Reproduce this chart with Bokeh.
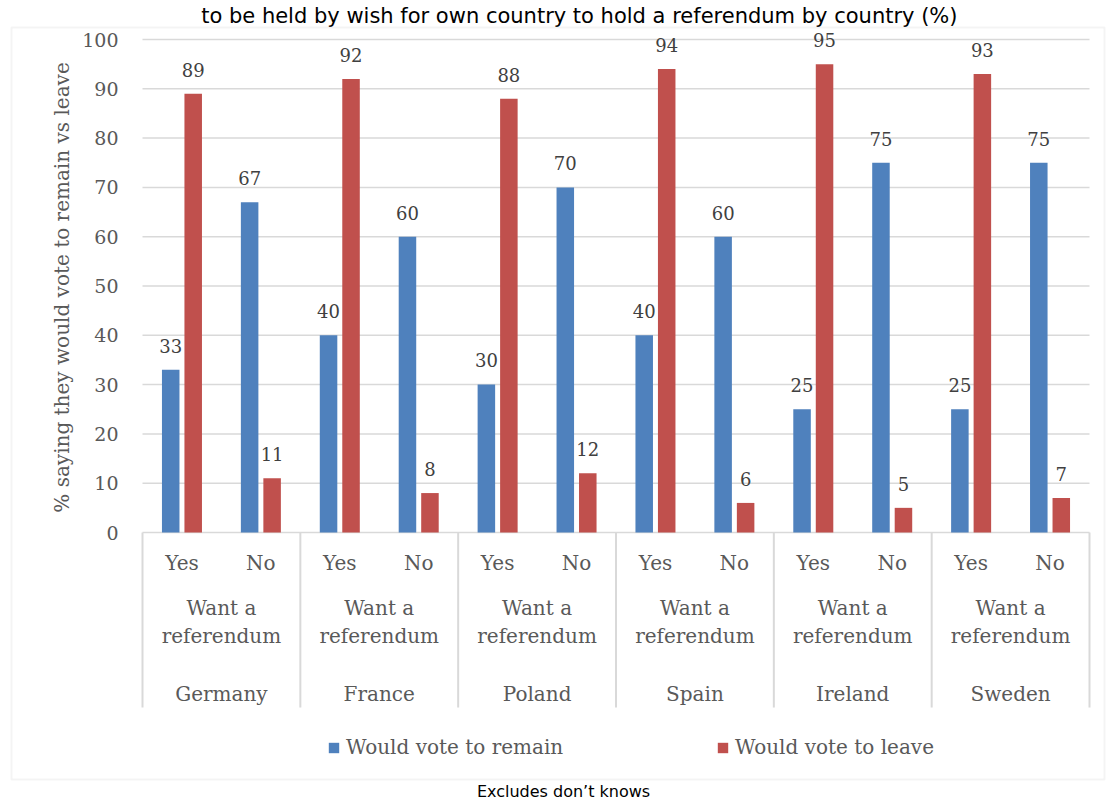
from bokeh.plotting import figure
from bokeh.models import (ColumnDataSource, Range1d, FixedTicker, LinearAxis,
                          Legend, LegendItem, BoxAnnotation, Label, Grid)
from bokeh.transform import dodge
from bokeh.core.properties import value
from bokeh.embed import file_html
from bokeh.resources import INLINE

# ---------------- data ----------------
countries = ["Germany", "France", "Poland", "Spain", "Ireland", "Sweden"]
answers = ["Yes", "No"]
group_line_1 = "Want a"
group_line_2 = "referendum"
remain = [33, 67, 40, 60, 30, 70, 40, 60, 25, 75, 25, 75]
leave = [89, 11, 92, 8, 88, 12, 94, 6, 95, 5, 93, 7]
y_ticks = [0, 10, 20, 30, 40, 50, 60, 70, 80, 90, 100]
series_names = ["Would vote to remain", "Would vote to leave"]
title_text = "to be held by wish for own country to hold a referendum by country (%)"
y_title = "% saying they would vote to remain vs leave"
note_text = "Excludes don\u2019t knows"

BLUE = "#4F81BD"
RED = "#C0504D"
GRID = "#D9D9D9"
TXT = "#595959"
LBL = "#404040"
SERIF = "DejaVu Serif"
SANS = "DejaVu Sans"

W, H = 1107, 801
# chart area in pixels: x 142..1089 ; y value 0 at 532, 100 at 39
PLOT_L, PLOT_R = 142, 1089
n_cat = len(countries) * len(answers)
unit = (PLOT_R - PLOT_L) / n_cat          # pixels per category slot
ppv = (532 - 39) / 100.0                  # pixels per percentage point
x_start = -PLOT_L / unit
x_end = (W - PLOT_L) / unit
y_end = 100 + 39 / ppv
y_start = y_end - H / ppv

# category slot centres (one slot per country/answer pair)
cat_x = [i + 0.5 for i in range(n_cat)]
LABEL_GAP = 4.9  # percentage points between a bar top and its label centre

src = ColumnDataSource(dict(
    cx=cat_x,
    ans=[a for c in countries for a in answers],
    remain=remain,
    leave=leave,
    remain_txt=[str(v) for v in remain],
    leave_txt=[str(v) for v in leave],
    remain_y=[v + LABEL_GAP for v in remain],
    leave_y=[v + LABEL_GAP for v in leave],
))

p = figure(width=W, height=H,
           x_range=Range1d(x_start, x_end), y_range=Range1d(y_start, y_end),
           output_backend="svg", toolbar_location=None,
           x_axis_location=None, y_axis_location=None, title=None,
           min_border=0, min_border_left=0, min_border_right=0,
           min_border_top=0, min_border_bottom=0,
           outline_line_color=None, background_fill_color="white",
           border_fill_color="white")

# drop any default grids
p.center = [r for r in p.center if not isinstance(r, Grid)]

# y axis at the left edge of the chart area
ticker = FixedTicker(ticks=y_ticks)
yaxis = LinearAxis(ticker=ticker, fixed_location=0)
yaxis.axis_line_color = None
yaxis.major_tick_line_color = None
yaxis.minor_tick_line_color = None
yaxis.major_tick_out = 0
yaxis.major_tick_in = 0
yaxis.major_label_standoff = 24
yaxis.major_label_text_font = SERIF
yaxis.major_label_text_font_size = "19px"
yaxis.major_label_text_color = TXT
p.add_layout(yaxis, "left")

# horizontal gridlines at the tick values, across the chart area
grid_src = ColumnDataSource(dict(y=y_ticks))
p.segment(x0=0, x1=n_cat, y0="y", y1="y", source=grid_src,
          line_color=GRID, line_width=1.5, level="underlay")

# y axis title, centred on the 0-100 scale
p.add_layout(Label(x=61, y=287, x_units="canvas", y_units="canvas",
                   text=y_title, angle=90, angle_units="deg",
                   text_align="center", text_baseline="middle",
                   text_font=SERIF, text_font_size="20px", text_color=TXT))

# bars
BW = 0.222
OFF = 0.1425
r_remain = p.vbar(x=dodge("cx", -OFF), top="remain", width=BW,
                  source=src, fill_color=BLUE, line_color=None)
r_leave = p.vbar(x=dodge("cx", OFF), top="leave", width=BW,
                 source=src, fill_color=RED, line_color=None)

# data labels
p.text(x=dodge("cx", -OFF), y="remain_y", text="remain_txt",
       source=src, text_align="center", text_baseline="middle",
       text_font=value(SERIF), text_font_size="18px", text_color=LBL)
p.text(x=dodge("cx", OFF), y="leave_y", text="leave_txt",
       source=src, text_align="center", text_baseline="middle",
       text_font=value(SERIF), text_font_size="18px", text_color=LBL)

# multi-level category labels
p.text(x="cx", y=-6.1, text="ans", source=src, text_align="center",
       text_baseline="middle", text_font=value(SERIF), text_font_size="20px",
       text_color=TXT)
n_ans = len(answers)
grp = ColumnDataSource(dict(
    gx=[j * n_ans + n_ans / 2 for j in range(len(countries))],
    c=countries,
    l1=[group_line_1] * len(countries),
    l2=[group_line_2] * len(countries),
))
p.text(x="gx", y=-15.4, text="l1", source=grp, text_align="center",
       text_baseline="middle", text_font=value(SERIF), text_font_size="20px",
       text_color=TXT)
p.text(x="gx", y=-20.9, text="l2", source=grp, text_align="center",
       text_baseline="middle", text_font=value(SERIF), text_font_size="20px",
       text_color=TXT)
p.text(x="gx", y=-32.7, text="c", source=grp, text_align="center",
       text_baseline="middle", text_font=value(SERIF), text_font_size="20px",
       text_color=TXT)

# group separators (between countries, and at both ends)
sep_src = ColumnDataSource(dict(sx=[j * n_ans for j in range(len(countries) + 1)]))
p.segment(x0="sx", y0=0, x1="sx", y1=-35.5, source=sep_src,
          line_color=GRID, line_width=2)

# legends
def make_legend(name, rend, loc):
    return Legend(items=[LegendItem(label=name, renderers=[rend])],
                  location=loc, orientation="horizontal",
                  glyph_width=13, glyph_height=13, label_standoff=6,
                  label_height=13, padding=0, margin=0, spacing=0,
                  border_line_color=None, background_fill_alpha=0,
                  label_text_font=SERIF, label_text_font_size="20px",
                  label_text_color=TXT)

p.add_layout(make_legend(series_names[0], r_remain, (327, 42)))
p.add_layout(make_legend(series_names[1], r_leave, (716, 42)))

# title and note
p.add_layout(Label(x=957, y=3, x_units="canvas", y_units="canvas",
                   text=title_text, text_align="right", text_baseline="top",
                   text_font=SANS, text_font_size="21px", text_color="#000000"))
p.add_layout(Label(x=563, y=800, x_units="canvas", y_units="canvas",
                   text=note_text, text_align="center", text_baseline="bottom",
                   text_font=SANS, text_font_size="16px", text_color="#000000"))

# chart border
p.add_layout(BoxAnnotation(left=11, right=1104, top=27, bottom=779,
                           left_units="canvas", right_units="canvas",
                           top_units="canvas", bottom_units="canvas",
                           fill_color=None, fill_alpha=0,
                           line_color=GRID, line_width=2))

open("out.html", "w").write(file_html(p, INLINE))
